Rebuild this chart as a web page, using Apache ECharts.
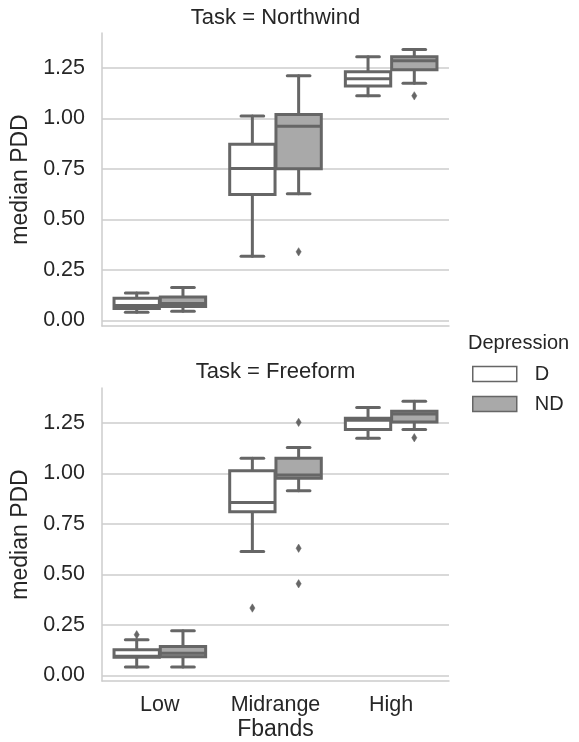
<!DOCTYPE html>
<html>
<head>
<meta charset="utf-8">
<script src="https://cdn.jsdelivr.net/npm/echarts@6/dist/echarts.min.js"></script>
<style>html,body{margin:0;padding:0;background:#fff;}#c{width:579px;height:742px;}</style>
</head>
<body>
<div id="c"></div>
<script>
// Categories and tick labels
var fbands = ['Low', 'Midrange', 'High'];
var yTicks = [0, 0.25, 0.5, 0.75, 1.0, 1.25];
var panels = ['Task = Northwind', 'Task = Freeform'];

// Box stats per band: [min, Q1, median, Q3, max]
var northwindD = [
  [0.040, 0.059, 0.073, 0.109, 0.135],
  [0.317, 0.623, 0.752, 0.872, 1.011],
  [1.112, 1.160, 1.196, 1.230, 1.305]
];
var northwindND = [
  [0.045, 0.069, 0.083, 0.115, 0.162],
  [0.626, 0.750, 0.961, 1.019, 1.211],
  [1.173, 1.240, 1.285, 1.305, 1.340]
];
var freeformD = [
  [0.041, 0.090, 0.095, 0.127, 0.176],
  [0.613, 0.810, 0.855, 1.013, 1.074],
  [1.173, 1.217, 1.262, 1.272, 1.325]
];
var freeformND = [
  [0.041, 0.092, 0.109, 0.143, 0.221],
  [0.914, 0.975, 0.992, 1.074, 1.128],
  [1.217, 1.254, 1.293, 1.307, 1.357]
];
// Outliers: [band, value]
var northwindDOut = [];
var northwindNDOut = [['Midrange', 0.339], ['High', 1.111]];
var freeformDOut = [['Low', 0.201], ['Midrange', 0.333]];
var freeformNDOut = [['Midrange', 1.252], ['Midrange', 0.629], ['Midrange', 0.453], ['High', 1.176]];

var LINE = '#666666';
var FILL_D = '#ffffff';
var FILL_ND = '#a9a9a9';
var TEXT = '#262626';
var GRID = '#cccccc';

function boxData(stats) {
  return stats.map(function (s, i) { return [fbands[i]].concat(s); });
}

function boxRender(side, fill) {
  return function (params, api) {
    var cat = api.value(0);
    var band = api.size([1, 0])[0];
    var w = band * 0.392;
    var c = api.coord([cat, 0])[0] + side * band * 0.2;
    function y(i) { return api.coord([cat, api.value(i)])[1]; }
    var yMin = y(1), yQ1 = y(2), yMed = y(3), yQ3 = y(4), yMax = y(5);
    var ls = { stroke: LINE, lineWidth: 3, lineCap: 'round' };
    return {
      type: 'group',
      children: [
        { type: 'line', shape: { x1: c, y1: yQ3, x2: c, y2: yMax }, style: ls },
        { type: 'line', shape: { x1: c, y1: yQ1, x2: c, y2: yMin }, style: ls },
        { type: 'line', shape: { x1: c - w / 4, y1: yMax, x2: c + w / 4, y2: yMax }, style: ls },
        { type: 'line', shape: { x1: c - w / 4, y1: yMin, x2: c + w / 4, y2: yMin }, style: ls },
        { type: 'rect', shape: { x: c - w / 2, y: yQ3, width: w, height: yQ1 - yQ3 },
          style: { fill: fill, stroke: LINE, lineWidth: 3 } },
        { type: 'line', shape: { x1: c - w / 2, y1: yMed, x2: c + w / 2, y2: yMed }, style: { stroke: LINE, lineWidth: 3 } }
      ]
    };
  };
}

function outRender(side) {
  return function (params, api) {
    var cat = api.value(0);
    var band = api.size([1, 0])[0];
    var p = api.coord([cat, api.value(1)]);
    var c = p[0] + side * band * 0.2;
    var hw = 2.6, hh = 4.2;
    return {
      type: 'polygon',
      shape: { points: [[c, p[1] - hh], [c + hw, p[1]], [c, p[1] + hh], [c - hw, p[1]]] },
      style: { fill: LINE, stroke: LINE, lineWidth: 0.5 }
    };
  };
}

var series = [];
var sets = [
  [northwindD, northwindND, northwindDOut, northwindNDOut],
  [freeformD, freeformND, freeformDOut, freeformNDOut]
];
sets.forEach(function (s, gi) {
  series.push({ name: 'D', type: 'custom', coordinateSystem: 'cartesian2d', xAxisIndex: gi, yAxisIndex: gi,
    renderItem: boxRender(-1, FILL_D), encode: { x: 0, y: [1, 2, 3, 4, 5] }, data: boxData(s[0]),
    itemStyle: { color: FILL_D, borderColor: LINE } });
  series.push({ name: 'ND', type: 'custom', coordinateSystem: 'cartesian2d', xAxisIndex: gi, yAxisIndex: gi,
    renderItem: boxRender(1, FILL_ND), encode: { x: 0, y: [1, 2, 3, 4, 5] }, data: boxData(s[1]),
    itemStyle: { color: FILL_ND, borderColor: LINE } });
  series.push({ name: 'D', type: 'custom', coordinateSystem: 'cartesian2d', xAxisIndex: gi, yAxisIndex: gi,
    renderItem: outRender(-1), encode: { x: 0, y: 1 }, data: s[2] });
  series.push({ name: 'ND', type: 'custom', coordinateSystem: 'cartesian2d', xAxisIndex: gi, yAxisIndex: gi,
    renderItem: outRender(1), encode: { x: 0, y: 1 }, data: s[3] });
});

var grids = [
  { left: 102, top: 33, width: 347, height: 293 },
  { left: 102, top: 388, width: 347, height: 293 }
];

var xAxes = grids.map(function (g, i) {
  return {
    type: 'category', gridIndex: i, data: fbands,
    axisLine: { onZero: false, lineStyle: { color: GRID, width: 1.5 } },
    axisTick: { show: false },
    axisLabel: { show: i === 1, interval: 0, hideOverlap: false, color: TEXT, fontSize: 21.5, fontFamily: 'Liberation Sans', margin: 13 },
    splitLine: { show: false },
    name: i === 1 ? 'Fbands' : '', nameLocation: 'middle', nameGap: 37,
    nameTextStyle: { color: TEXT, fontSize: 23, fontFamily: 'Liberation Sans' }
  };
});

var yAxes = grids.map(function (g, i) {
  return {
    type: 'value', gridIndex: i, min: -0.028, max: 1.422,
    axisLine: { show: true, lineStyle: { color: GRID, width: 1.5 } },
    axisTick: { show: false, customValues: yTicks },
    axisLabel: { color: TEXT, fontSize: 21.5, fontFamily: 'Liberation Sans', margin: 17,
      customValues: yTicks, formatter: function (v) { return v.toFixed(2); } },
    splitLine: { show: true, lineStyle: { color: GRID, width: 1.5 } },
    name: 'median PDD', nameLocation: 'middle', nameGap: 62,
    nameTextStyle: { color: TEXT, fontSize: 23, fontFamily: 'Liberation Sans' }
  };
});

var chart = echarts.init(document.getElementById('c'), null, { renderer: 'canvas' });
chart.setOption({
  backgroundColor: '#ffffff',
  animation: false,
  title: [
    { text: panels[0], left: 275.5, top: 7, textAlign: 'center', padding: 0,
      textStyle: { color: TEXT, fontSize: 22, fontWeight: 'normal', fontFamily: 'Liberation Sans' } },
    { text: panels[1], left: 275.5, top: 361, textAlign: 'center', padding: 0,
      textStyle: { color: TEXT, fontSize: 22, fontWeight: 'normal', fontFamily: 'Liberation Sans' } },
    { text: 'Depression', left: 468, top: 333, padding: 0,
      textStyle: { color: TEXT, fontSize: 20, fontWeight: 'normal', fontFamily: 'Liberation Sans' } }
  ],
  legend: {
    orient: 'vertical', left: 472, top: 364, padding: 0,
    itemWidth: 44, itemHeight: 15, itemGap: 10,
    textStyle: { color: TEXT, fontSize: 20, fontFamily: 'Liberation Sans', lineHeight: 20, padding: [0, 0, 0, 13] },
    data: [
      { name: 'D', icon: 'rect', itemStyle: { color: FILL_D, borderColor: LINE, borderWidth: 1.5 } },
      { name: 'ND', icon: 'rect', itemStyle: { color: FILL_ND, borderColor: LINE, borderWidth: 1.5 } }
    ]
  },
  grid: grids,
  xAxis: xAxes,
  yAxis: yAxes,
  series: series
});
</script>
</body>
</html>
